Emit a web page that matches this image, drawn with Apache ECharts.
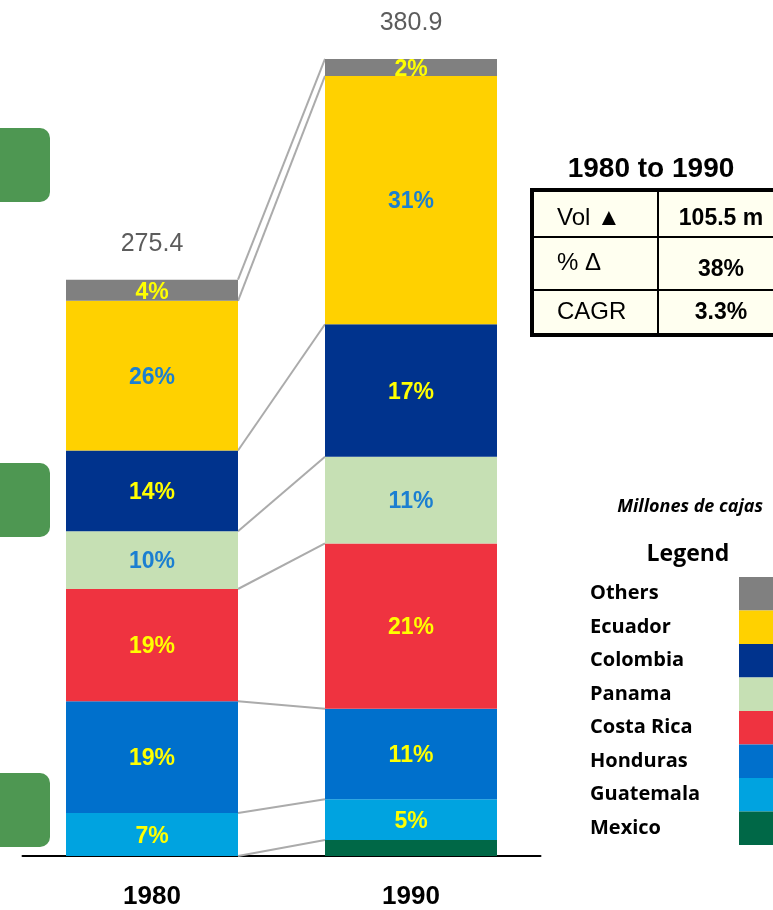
<!DOCTYPE html>
<html>
<head>
<meta charset="utf-8">
<script src="https://cdn.jsdelivr.net/npm/echarts@6/dist/echarts.min.js"></script>
<style>
  html, body { margin: 0; padding: 0; background: #fff; }
  #chart { width: 773px; height: 910px; }
</style>
</head>
<body>
<div id="chart"></div>
<script>
// años y totales (millones de cajas)
const years = ['1980', '1990'];
const totals = [275.4, 380.9];

// países de abajo hacia arriba en la pila
const countries = ['Mexico', 'Guatemala', 'Honduras', 'Costa Rica', 'Panama', 'Colombia', 'Ecuador', 'Others'];
const mexico = [0, 7.6];
const guatemala = [20.5, 19.5];
const honduras = [53.5, 43.3];
const costaRica = [53.6, 79.0];
const panama = [27.6, 41.4];
const colombia = [38.6, 63.3];
const ecuador = [71.5, 118.7];
const others = [10.1, 8.1];

const legendOrder = ['Others', 'Ecuador', 'Colombia', 'Panama', 'Costa Rica', 'Honduras', 'Guatemala', 'Mexico'];

// tabla 1980 to 1990
const tableLabels = ['Vol \u25B2', '% \u0394', 'CAGR'];
const tableValues = ['105.5 m', '38%', '3.3%'];

const seriesValues = [mexico, guatemala, honduras, costaRica, panama, colombia, ecuador, others];
const colors = ['#006847', '#00A3E0', '#0070CC', '#EF3340', '#C6E0B4', '#00338D', '#FFD100', '#808080'];
const labelColors = ['#FFFF00', '#FFFF00', '#FFFF00', '#FFFF00', '#1B7FD1', '#FFFF00', '#1B7FD1', '#FFFF00'];

const NARROW = "'Liberation Sans Narrow', 'Arial Narrow', 'Liberation Sans', Arial, sans-serif";
const LEG_FONT = "'Open Sans', sans-serif";
const BAR_W = 172;

// limites acumulados para las lineas de union
let cum = [0, 0];
const joins = [];
for (let i = 0; i < seriesValues.length; i++) {
  cum = [cum[0] + seriesValues[i][0], cum[1] + seriesValues[i][1]];
  joins.push([0, cum[0], cum[1]]);
}

const chart = echarts.init(document.getElementById('chart'));

const series = countries.map(function (name, i) {
  return {
    name: name,
    type: 'bar',
    stack: 'total',
    barWidth: BAR_W,
    z: 3,
    data: seriesValues[i],
    itemStyle: { color: colors[i] },
    label: {
      show: name !== 'Mexico',
      position: 'inside',
      color: labelColors[i],
      fontFamily: NARROW,
      fontWeight: 'bold',
      fontSize: 23,
      offset: [0, 2],
      formatter: function (p) {
        if (!p.value) return '';
        return Math.round(p.value / totals[p.dataIndex] * 100) + '%';
      }
    }
  };
});

// lineas grises entre las barras
series.push({
  type: 'custom',
  z: 1,
  silent: true,
  data: joins,
  encode: { x: 0, y: 1 },
  renderItem: function (params, api) {
    const a = api.coord([0, api.value(1)]);
    const b = api.coord([1, api.value(2)]);
    return {
      type: 'line',
      shape: { x1: a[0] + BAR_W / 2, y1: a[1], x2: b[0] - BAR_W / 2, y2: b[1] },
      style: { stroke: '#ABABAB', lineWidth: 2 }
    };
  }
});

// totales arriba de cada barra
series.push({
  name: 'total',
  type: 'scatter',
  symbolSize: 0,
  silent: true,
  data: totals,
  label: {
    show: true,
    position: 'top',
    distance: 23,
    color: '#333333',
    fontFamily: NARROW,
    fontSize: 25,
    formatter: function (p) { return p.value.toFixed(1); }
  }
});

// tabla como graficos
const tableTop = 190, rowH = [47, 53, 45];
const tableEls = [{
  type: 'rect',
  shape: { x: 532, y: tableTop, width: 260, height: 145 },
  style: { fill: '#FFFFF0', stroke: '#000', lineWidth: 4 }
}, {
  type: 'line',
  shape: { x1: 658, y1: tableTop, x2: 658, y2: tableTop + 145 },
  style: { stroke: '#000', lineWidth: 2 }
}];
let ry = tableTop;
const labelDy = [5, 0, 0], valueDy = [5, 6, 0];
for (let i = 0; i < tableLabels.length; i++) {
  if (i > 0) {
    tableEls.push({
      type: 'line',
      shape: { x1: 532, y1: ry, x2: 773, y2: ry },
      style: { stroke: '#000', lineWidth: 2 }
    });
  }
  tableEls.push({
    type: 'text',
    x: 557, y: ry + rowH[i] / 2 + labelDy[i],
    style: { text: tableLabels[i], font: '24px ' + NARROW, fill: '#000', verticalAlign: 'middle' }
  });
  tableEls.push({
    type: 'text',
    x: 721, y: ry + rowH[i] / 2 + valueDy[i],
    style: { text: tableValues[i], font: 'bold 23px ' + NARROW, fill: '#000', align: 'center', verticalAlign: 'middle' }
  });
  ry += rowH[i];
}

const option = {
  animation: false,
  backgroundColor: '#fff',
  title: [{
    text: '1980 to 1990',
    left: 651, top: 155, padding: 0,
    textAlign: 'center',
    textStyle: { fontFamily: NARROW, fontWeight: 'bold', fontSize: 28, color: '#000' }
  }, {
    text: 'Legend',
    left: 688, top: 543, padding: 0,
    textAlign: 'center',
    textStyle: { fontFamily: LEG_FONT, fontWeight: 'bold', fontSize: 23, color: '#000' }
  }, {
    text: 'Millones de cajas',
    right: 10, top: 498, padding: 0,
    textStyle: { fontFamily: LEG_FONT, fontStyle: 'italic', fontWeight: 'bold', fontSize: 18, color: '#000' }
  }],
  legend: {
    orient: 'vertical',
    left: 590, top: 577,
    padding: 0, itemGap: 0,
    align: 'right',
    icon: 'rect',
    itemWidth: 34, itemHeight: 33.5,
    selectedMode: false,
    data: legendOrder,
    formatter: function (name) { return '{n|' + name + '}'; },
    textStyle: {
      rich: {
        n: { width: 144, align: 'left', fontFamily: LEG_FONT, fontWeight: 'bold', fontSize: 20, color: '#000' }
      }
    }
  },
  grid: { left: 22.5, right: 232.5, top: 19, bottom: 52 },
  xAxis: {
    type: 'category',
    data: years,
    axisLine: { lineStyle: { color: '#000', width: 2 } },
    axisTick: { show: false },
    axisLabel: { margin: 28, color: '#000', fontFamily: NARROW, fontWeight: 'bold', fontSize: 26 }
  },
  yAxis: { type: 'value', min: 0, max: 400, show: false },
  graphic: [
    { type: 'rect', shape: { x: -20, y: 128, width: 70, height: 74, r: 10 }, style: { fill: '#4E9752' } },
    { type: 'rect', shape: { x: -20, y: 463, width: 70, height: 74, r: 10 }, style: { fill: '#4E9752' } },
    { type: 'rect', shape: { x: -20, y: 773, width: 70, height: 74, r: 10 }, style: { fill: '#4E9752' } },
    { type: 'group', children: tableEls }
  ],
  series: series
};

chart.setOption(option);
</script>
</body>
</html>
